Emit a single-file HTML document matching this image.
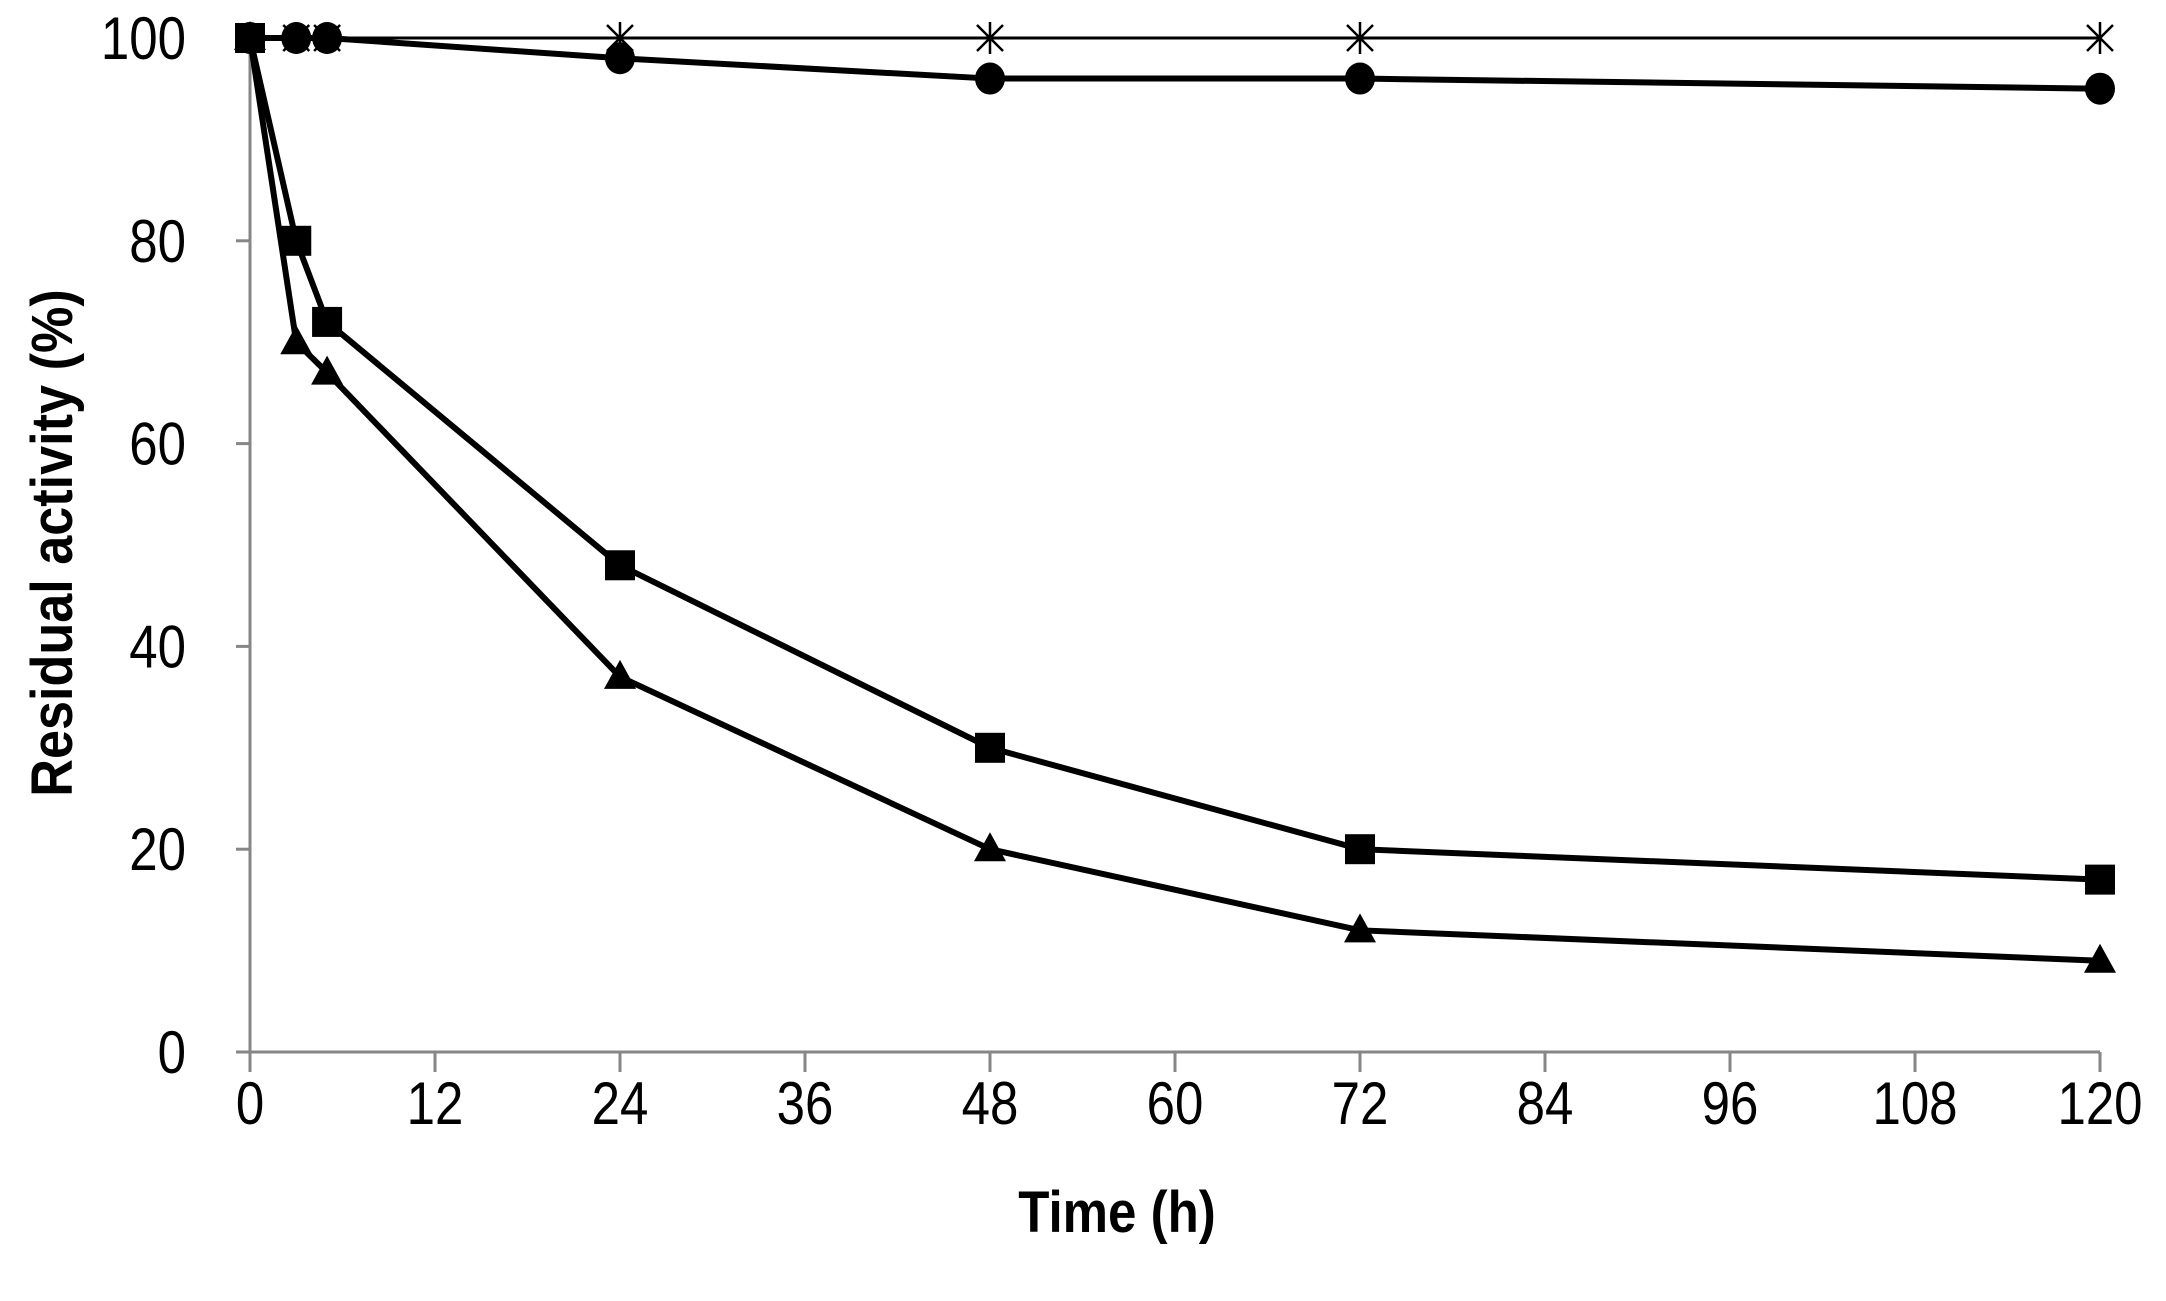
<!DOCTYPE html>
<html><head><meta charset="utf-8"><style>
body{margin:0;background:#fff}
svg text{font-family:"Liberation Sans",sans-serif}
</style></head><body>
<svg id="chart" width="2166" height="1296" viewBox="0 0 2166 1296" xmlns="http://www.w3.org/2000/svg">
<g id="axes"></g><g id="series"></g>
<text transform="translate(1117,1232) scale(0.88,1)" font-size="58" font-weight="bold" text-anchor="middle">Time (h)</text>
<text transform="translate(72,543) rotate(-90) scale(0.9,1)" font-size="58" font-weight="bold" text-anchor="middle">Residual activity (%)</text>
</svg>
<script>
const times=[0,3,5,24,48,72,120];
const starVals=[100,100,100,100,100,100,100];
const circleVals=[100,100,100,98,96,96,95];
const squareVals=[100,80,72,48,30,20,17];
const triangleVals=[100,70,67,37,20,12,9];
const xTicks=[0,12,24,36,48,60,72,84,96,108,120];
const yTicks=[0,20,40,60,80,100];
const NS="http://www.w3.org/2000/svg";
const x=v=>250+v*(2100-250)/120;
const y=v=>1052-v*(1052-38)/100;
function mk(tag,attrs,parent){const e=document.createElementNS(NS,tag);for(const k in attrs)e.setAttribute(k,attrs[k]);parent.appendChild(e);return e;}
const ax=document.getElementById('axes'),se=document.getElementById('series');
let l=mk('line',{x1:x(0),y1:y(0),x2:x(0),y2:y(100),stroke:'#868686','stroke-width':3},ax);


l=mk('line',{x1:x(0)-14,y1:y(0),x2:x(120),y2:y(0),stroke:'#868686','stroke-width':3},ax);


yTicks.forEach(t=>{
 const tk=mk('line',{x1:x(0)-14,y1:y(t),x2:x(0),y2:y(t),stroke:'#868686','stroke-width':3},ax);
 
 
 const tx=mk('text',{transform:`translate(${x(0)-64},${y(t)+21}) scale(0.85,1)`,'font-size':60,'text-anchor':'end'},ax);tx.textContent=t;
 
 
});
xTicks.forEach(t=>{
 const tk=mk('line',{x1:x(t),y1:y(0),x2:x(t),y2:y(0)+20,stroke:'#868686','stroke-width':3},ax);
 
 
 const tx=mk('text',{transform:`translate(${x(t)},${y(0)+72}) scale(0.85,1)`,'font-size':60,'text-anchor':'middle'},ax);tx.textContent=t;
 
 
});
function line(vals,w,name){
 const p=mk('polyline',{points:times.map((t,i)=>x(t)+','+y(vals[i])).join(' '),fill:'none',stroke:'#000','stroke-width':w},se);
 
 
}
line(starVals,3,'star-series-line');
line(circleVals,6,'circle-series-line');
line(squareVals,6,'square-series-line');
line(triangleVals,6,'triangle-series-line');
times.forEach((t,i)=>{
 const cx=x(t),cy=y(starVals[i]);
 const g=mk('path',{d:`M${cx-13},${cy-13}L${cx+13},${cy+13}M${cx-13},${cy+13}L${cx+13},${cy-13}M${cx},${cy-16}L${cx},${cy+16}`,stroke:'#000','stroke-width':2.5},se);
 
 
});
times.forEach((t,i)=>{
 const c=mk('ellipse',{cx:x(t),cy:y(circleVals[i]),rx:15,ry:16,fill:'#000'},se);
 
 
});
times.forEach((t,i)=>{
 const r=mk('rect',{x:x(t)-15,y:y(squareVals[i])-15,width:30,height:30,fill:'#000'},se);
 
 
});
times.forEach((t,i)=>{
 const cx=x(t),cy=y(triangleVals[i]);
 const p=mk('polygon',{points:`${cx},${cy-17} ${cx+16},${cy+12} ${cx-16},${cy+12}`,fill:'#000'},se);
 
 
});
</script>
</body></html>
